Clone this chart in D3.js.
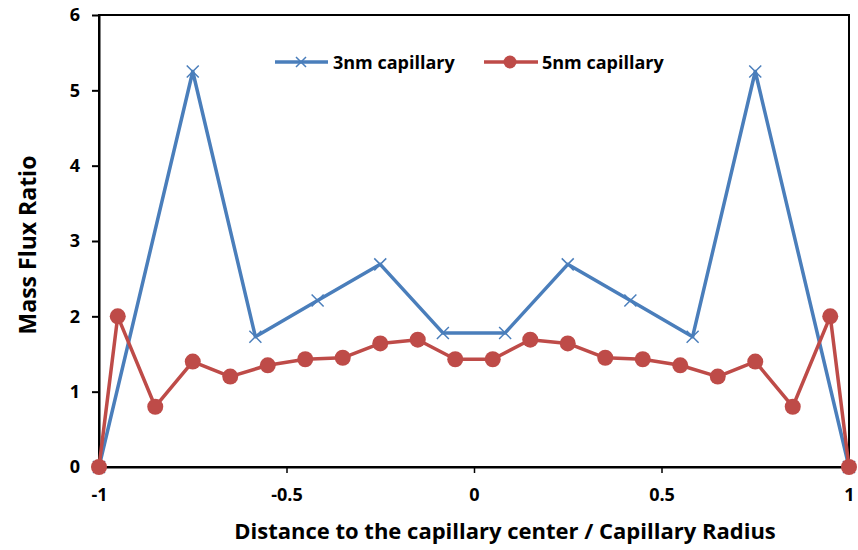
<!DOCTYPE html>
<html>
<head>
<meta charset="utf-8">
<script src="https://d3js.org/d3.v7.min.js"></script>
<style>
  body { margin: 0; background: #fff; }
  text { font-family: "Open Sans", "Liberation Sans", sans-serif; font-weight: bold; fill: #000; }
</style>
</head>
<body>
<div id="chart"></div>
<script>
// 3nm capillary (blue, x markers)
const x3nm = [-1, -0.75, -0.583, -0.417, -0.25, -0.083, 0.083, 0.25, 0.417, 0.583, 0.75, 1];
const y3nm = [0, 5.25, 1.73, 2.21, 2.69, 1.78, 1.78, 2.69, 2.21, 1.73, 5.25, 0];

// 5nm capillary (red, circle markers)
const x5nm = [-1, -0.95, -0.85, -0.75, -0.65, -0.55, -0.45, -0.35, -0.25, -0.15, -0.05,
              0.05, 0.15, 0.25, 0.35, 0.45, 0.55, 0.65, 0.75, 0.85, 0.95, 1];
const y5nm = [0, 2.0, 0.8, 1.4, 1.2, 1.35, 1.43, 1.45, 1.64, 1.69, 1.43,
              1.43, 1.69, 1.64, 1.45, 1.43, 1.35, 1.2, 1.4, 0.8, 2.0, 0];

const xTicks = [-1, -0.5, 0, 0.5, 1];
const yTicks = [0, 1, 2, 3, 4, 5, 6];
const seriesNames = ["3nm capillary", "5nm capillary"];

const W = 858, H = 550;
const margin = {top: 15, right: 9, bottom: 83, left: 99};
const width = W - margin.left - margin.right,
      height = H - margin.top - margin.bottom;

const svg = d3.select("#chart").append("svg")
    .attr("width", W).attr("height", H);
const g = svg.append("g")
    .attr("transform", `translate(${margin.left},${margin.top})`);

const x = d3.scaleLinear().domain([-1, 1]).range([0, width]);
const y = d3.scaleLinear().domain([0, 6]).range([height, 0]);

// frame top/right
g.append("rect").attr("x", 0).attr("y", 0).attr("width", width).attr("height", height)
    .attr("fill", "none").attr("stroke", "#000").attr("stroke-width", 2);

// x axis
const xAxis = g.append("g").attr("transform", `translate(0,${height})`)
    .call(d3.axisBottom(x).tickValues(xTicks).tickSize(6).tickSizeOuter(0).tickPadding(15)
        .tickFormat(d => String(d)));
xAxis.select(".domain").attr("stroke-width", 2);
xAxis.selectAll(".tick line").attr("stroke-width", 1.5);
xAxis.selectAll(".tick").filter(d => d === -1 || d === 1).select("line").remove();
xAxis.selectAll("text").style("font-size", "18px").style("font-weight", "bold")
    .style("font-family", "'Open Sans', sans-serif");

// y axis
const yAxis = g.append("g")
    .call(d3.axisLeft(y).tickValues(yTicks).tickSize(7).tickSizeOuter(0).tickPadding(12)
        .tickFormat(d => String(d)));
yAxis.select(".domain").attr("stroke-width", 2);
yAxis.selectAll(".tick line").attr("stroke-width", 2);
yAxis.selectAll("text").style("font-size", "18px").style("font-weight", "bold")
    .style("font-family", "'Open Sans', sans-serif");

// axis titles
svg.append("text").attr("x", 505).attr("y", 539).attr("text-anchor", "middle")
    .style("font-size", "22px").text("Distance to the capillary center / Capillary Radius");
svg.append("text").attr("transform", "translate(36,245) rotate(-90)").attr("text-anchor", "middle")
    .style("font-size", "23px").text("Mass Flux Ratio");

const blue = "#4a7ebb", red = "#be4b48";
const line = d3.line().x(d => x(d[0])).y(d => y(d[1]));

const d3nm = x3nm.map((v, i) => [v, y3nm[i]]);
const d5nm = x5nm.map((v, i) => [v, y5nm[i]]);

function xMark(sel, cx, cy, s) {
  sel.append("path")
    .attr("d", `M${cx - s},${cy - s}L${cx + s},${cy + s}M${cx - s},${cy + s}L${cx + s},${cy - s}`)
    .attr("stroke", blue).attr("stroke-width", 1.5).attr("fill", "none");
}

g.append("path").datum(d3nm).attr("d", line)
    .attr("fill", "none").attr("stroke", blue).attr("stroke-width", 3.5)
    .attr("stroke-linejoin", "round");
const mk3 = g.append("g");
d3nm.forEach(d => xMark(mk3, x(d[0]), y(d[1]), 6));

g.append("path").datum(d5nm).attr("d", line)
    .attr("fill", "none").attr("stroke", red).attr("stroke-width", 3.5)
    .attr("stroke-linejoin", "round");
g.append("g").selectAll("circle").data(d5nm).enter().append("circle")
    .attr("cx", d => x(d[0])).attr("cy", d => y(d[1])).attr("r", 8)
    .attr("fill", red);

// legend
const leg = svg.append("g");
leg.append("line").attr("x1", 275).attr("x2", 328).attr("y1", 62).attr("y2", 62)
    .attr("stroke", blue).attr("stroke-width", 3.5);
xMark(leg, 301, 62, 5);
leg.append("text").attr("x", 333).attr("y", 68.5).style("font-size", "18px").text(seriesNames[0]);
leg.append("line").attr("x1", 484).attr("x2", 538).attr("y1", 62).attr("y2", 62)
    .attr("stroke", red).attr("stroke-width", 3.5);
leg.append("circle").attr("cx", 510).attr("cy", 62).attr("r", 6.5).attr("fill", red);
leg.append("text").attr("x", 542).attr("y", 68.5).style("font-size", "18px").text(seriesNames[1]);
</script>
</body>
</html>
